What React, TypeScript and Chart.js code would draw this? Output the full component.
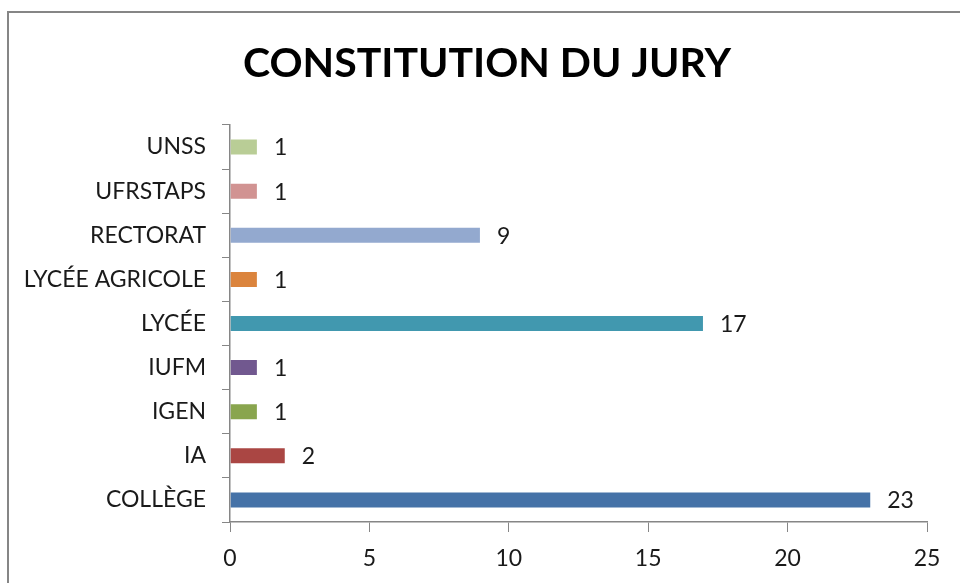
import React, { useEffect, useRef } from "react";
import { Chart, registerables } from "chart.js";

Chart.register(...registerables);

const TITLE = "CONSTITUTION DU JURY";
const categories = [
  "UNSS",
  "UFRSTAPS",
  "RECTORAT",
  "LYCÉE AGRICOLE",
  "LYCÉE",
  "IUFM",
  "IGEN",
  "IA",
  "COLLÈGE",
];
const values = [1, 1, 9, 1, 17, 1, 1, 2, 23];
const barColors = [
  "#B9CD96",
  "#D19392",
  "#93A9CF",
  "#DB843D",
  "#4198AF",
  "#71588F",
  "#89A54E",
  "#AA4643",
  "#4572A7",
];
const xMin = 0;
const xMax = 25;
const xStep = 5;

const FONT = "Lato, 'Open Sans', sans-serif";
const GRAY = "#868686";
const TEXT = "#1a1a1a";

export default function App() {
  const ref = useRef<HTMLCanvasElement | null>(null);

  useEffect(() => {
    if (!ref.current) return;

    const frameAndTitle = {
      id: "frameAndTitle",
      beforeDraw(chart: any) {
        const ctx = chart.ctx;
        ctx.save();
        ctx.fillStyle = "#ffffff";
        ctx.fillRect(0, 0, chart.width, chart.height);
        ctx.strokeStyle = GRAY;
        ctx.lineWidth = 2;
        ctx.strokeRect(8, 12, chart.width + 20, chart.height + 20);
        ctx.fillStyle = "#000";
        ctx.font = `bold 41px ${FONT}`;
        ctx.textAlign = "center";
        ctx.textBaseline = "alphabetic";
        ctx.fillText(TITLE, 487, 77);
        ctx.restore();
      },
    };

    const valueLabels = {
      id: "valueLabels",
      afterDatasetsDraw(chart: any) {
        const ctx = chart.ctx;
        const meta = chart.getDatasetMeta(0);
        ctx.save();
        ctx.fillStyle = TEXT;
        ctx.font = `23px ${FONT}`;
        ctx.textAlign = "left";
        ctx.textBaseline = "middle";
        meta.data.forEach((bar: any, i: number) => {
          ctx.fillText(String(values[i]), bar.x + 16, bar.y + 1);
        });
        ctx.restore();
      },
    };

    const chart = new Chart(ref.current, {
      type: "bar",
      data: {
        labels: categories,
        datasets: [
          {
            data: values,
            backgroundColor: barColors,
            borderColor: "rgba(255,255,255,0.5)",
            borderWidth: 1,
            categoryPercentage: 1,
            barPercentage: 0.385,
          },
        ],
      },
      options: {
        indexAxis: "y",
        animation: false,
        responsive: false,
        layout: { padding: { top: 125, right: 33, left: 0, bottom: 0 } },
        plugins: {
          legend: { display: false },
          title: { display: false },
          tooltip: { enabled: false },
        },
        scales: {
          x: {
            min: xMin,
            max: xMax,
            ticks: {
              stepSize: xStep,
              color: TEXT,
              font: { family: FONT, size: 23 },
              padding: 13,
              maxRotation: 0,
            },
            grid: {
              drawOnChartArea: false,
              drawTicks: true,
              tickLength: 10,
              color: GRAY,
              lineWidth: 1,
            },
            border: { display: true, color: GRAY, width: 1.5 },
            afterFit(scale: any) {
              scale.height = 61;
            },
          },
          y: {
            ticks: {
              color: TEXT,
              font: { family: FONT, size: 23 },
              padding: 16,
            },
            grid: {
              drawOnChartArea: false,
              drawTicks: true,
              tickLength: 8,
              color: GRAY,
              lineWidth: 1,
            },
            border: { display: true, color: GRAY, width: 1.5 },
            afterFit(scale: any) {
              scale.width = 230;
            },
          },
        },
      },
      plugins: [frameAndTitle, valueLabels],
    });

    return () => chart.destroy();
  }, []);

  return (
    <div style={{ position: "absolute", left: 0, top: 0, width: 960, height: 583 }}>
      <canvas ref={ref} width={960} height={583} />
    </div>
  );
}
